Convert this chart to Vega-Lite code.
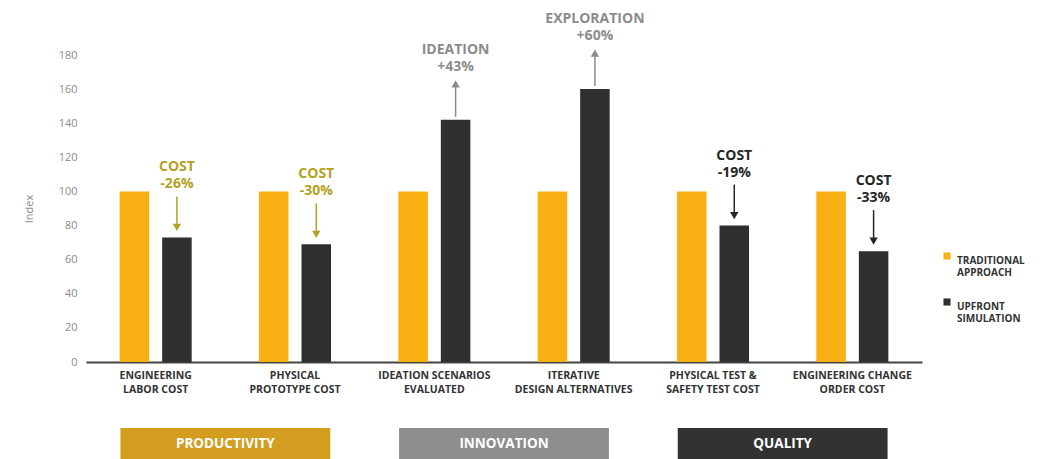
{
  "$schema": "https://vega.github.io/schema/vega-lite/v6.json",
  "width": 836,
  "height": 307,
  "autosize": {"type": "none"},
  "padding": {"left": 86, "top": 55, "right": 118, "bottom": 97},
  "background": "white",
  "config": {
    "font": "Open Sans",
    "view": {"stroke": null},
    "axis": {"grid": false},
    "axisY": {"labelOverlap": false, "labelBound": false, "labelFlush": false}
  },
  "datasets": {
    "bars": [
      {"category": "ENGINEERING|LABOR COST", "series": "TRADITIONAL APPROACH", "value": 100},
      {"category": "ENGINEERING|LABOR COST", "series": "UPFRONT SIMULATION", "value": 73},
      {"category": "PHYSICAL|PROTOTYPE COST", "series": "TRADITIONAL APPROACH", "value": 100},
      {"category": "PHYSICAL|PROTOTYPE COST", "series": "UPFRONT SIMULATION", "value": 69},
      {"category": "IDEATION SCENARIOS|EVALUATED", "series": "TRADITIONAL APPROACH", "value": 100},
      {"category": "IDEATION SCENARIOS|EVALUATED", "series": "UPFRONT SIMULATION", "value": 142},
      {"category": "ITERATIVE|DESIGN ALTERNATIVES", "series": "TRADITIONAL APPROACH", "value": 100},
      {"category": "ITERATIVE|DESIGN ALTERNATIVES", "series": "UPFRONT SIMULATION", "value": 160},
      {"category": "PHYSICAL TEST &|SAFETY TEST COST", "series": "TRADITIONAL APPROACH", "value": 100},
      {"category": "PHYSICAL TEST &|SAFETY TEST COST", "series": "UPFRONT SIMULATION", "value": 80},
      {"category": "ENGINEERING CHANGE|ORDER COST", "series": "TRADITIONAL APPROACH", "value": 100},
      {"category": "ENGINEERING CHANGE|ORDER COST", "series": "UPFRONT SIMULATION", "value": 65}
    ],
    "notes": [
      {"category": "ENGINEERING|LABOR COST", "series": "UPFRONT SIMULATION", "pillar": "PRODUCTIVITY", "value": 73, "line1": "COST", "line2": "-26%", "direction": "down"},
      {"category": "PHYSICAL|PROTOTYPE COST", "series": "UPFRONT SIMULATION", "pillar": "PRODUCTIVITY", "value": 69, "line1": "COST", "line2": "-30%", "direction": "down"},
      {"category": "IDEATION SCENARIOS|EVALUATED", "series": "UPFRONT SIMULATION", "pillar": "INNOVATION", "value": 142, "line1": "IDEATION", "line2": "+43%", "direction": "up"},
      {"category": "ITERATIVE|DESIGN ALTERNATIVES", "series": "UPFRONT SIMULATION", "pillar": "INNOVATION", "value": 160, "line1": "EXPLORATION", "line2": "+60%", "direction": "up"},
      {"category": "PHYSICAL TEST &|SAFETY TEST COST", "series": "UPFRONT SIMULATION", "pillar": "QUALITY", "value": 80, "line1": "COST", "line2": "-19%", "direction": "down"},
      {"category": "ENGINEERING CHANGE|ORDER COST", "series": "UPFRONT SIMULATION", "pillar": "QUALITY", "value": 65, "line1": "COST", "line2": "-33%", "direction": "down"}
    ],
    "pillars": [
      {"pillar": "PRODUCTIVITY"},
      {"pillar": "INNOVATION"},
      {"pillar": "QUALITY"}
    ]
  },
  "layer": [
    {
      "layer": [
        {
          "data": {"name": "bars"},
          "mark": {"type": "bar"},
          "encoding": {
            "x": {
              "field": "category", "type": "nominal", "sort": null,
              "scale": {"paddingInner": 0.483, "paddingOuter": 0.2415},
              "axis": {
                "title": null, "labelAngle": 0, "ticks": false,
                "domainColor": "#444444", "domainWidth": 2,
                "labelExpr": "split(datum.label, '|')",
                "labelFont": "Open Sans", "labelFontWeight": "bold", "labelFontSize": 10.5,
                "labelColor": "#333333", "labelPadding": 8, "labelLineHeight": 14,
                "labelLimit": 200
              }
            },
            "xOffset": {
              "field": "series", "type": "nominal",
              "scale": {"domain": ["TRADITIONAL APPROACH", "UPFRONT SIMULATION"], "paddingInner": 0.306, "paddingOuter": 0}
            },
            "y": {
              "field": "value", "type": "quantitative",
              "scale": {"domain": [0, 180]},
              "axis": {
                "title": "Index", "values": [0, 20, 40, 60, 80, 100, 120, 140, 160, 180],
                "labelOverlap": false,
                "domain": false, "ticks": false, "labelColor": "#8a8a8a", "labelFontSize": 11,
                "labelPadding": 9, "titleColor": "#8a8a8a", "titleFontWeight": "normal",
                "titleFontSize": 11, "titlePadding": 24
              }
            },
            "color": {
              "field": "series", "type": "nominal",
              "scale": {"domain": ["TRADITIONAL APPROACH", "UPFRONT SIMULATION"], "range": ["#F8AF12", "#2D2F31"]},
              "legend": {
                "title": null, "orient": "none", "legendX": 856, "legendY": 196,
                "symbolType": "square", "symbolSize": 50,
                "labelExpr": "split(datum.label, ' ')",
                "labelFontWeight": "bold", "labelFontSize": 10, "labelColor": "#333333",
                "labelLineHeight": 14, "rowPadding": 19, "labelBaseline": "top", "labelOffset": 5
              }
            }
          }
        },
        {
          "data": {"name": "notes"},
          "encoding": {
            "x": {"field": "category", "type": "nominal", "sort": null},
            "xOffset": {"field": "series", "type": "nominal"},
            "y": {
              "field": "value", "type": "quantitative",
              "axis": {
                "title": "Index", "values": [0, 20, 40, 60, 80, 100, 120, 140, 160, 180],
                "labelOverlap": false,
                "domain": false, "ticks": false, "labelColor": "#8a8a8a", "labelFontSize": 11,
                "labelPadding": 9, "titleColor": "#8a8a8a", "titleFontWeight": "normal",
                "titleFontSize": 11, "titlePadding": 24
              }
            },
            "color": {
              "field": "pillar", "type": "nominal",
              "scale": {"domain": ["PRODUCTIVITY", "INNOVATION", "QUALITY"], "range": ["#B4A124", "#8C8C8C", "#262626"]},
              "legend": null
            }
          },
          "layer": [
            {
              "mark": {"type": "text", "dy": -70, "fontSize": 14, "fontWeight": "bold", "baseline": "middle"},
              "encoding": {"text": {"field": "line1"}}
            },
            {
              "mark": {"type": "text", "dy": -53, "fontSize": 14, "fontWeight": "bold", "baseline": "middle"},
              "encoding": {"text": {"field": "line2"}}
            },
            {
              "transform": [{"filter": "datum.direction == 'down'"}],
              "mark": {"type": "rule", "strokeWidth": 1.5, "yOffset": -41, "y2Offset": -12},
              "encoding": {"y2": {"field": "value"}}
            },
            {
              "transform": [{"filter": "datum.direction == 'down'"}],
              "mark": {"type": "point", "shape": "triangle-down", "filled": true, "opacity": 1, "size": 70, "yOffset": -10}
            },
            {
              "transform": [{"filter": "datum.direction == 'up'"}],
              "mark": {"type": "rule", "strokeWidth": 1.5, "yOffset": -3, "y2Offset": -33},
              "encoding": {"y2": {"field": "value"}}
            },
            {
              "transform": [{"filter": "datum.direction == 'up'"}],
              "mark": {"type": "point", "shape": "triangle-up", "filled": true, "opacity": 1, "size": 70, "yOffset": -36}
            }
          ]
        }
      ],
      "resolve": {"scale": {"color": "independent"}}
    },
    {
      "data": {"name": "pillars"},
      "encoding": {
        "x": {
          "field": "pillar", "type": "nominal", "sort": null,
          "scale": {"paddingInner": 0.247, "paddingOuter": 0.1235},
          "axis": null
        },
        "y": {
          "datum": 0, "type": "quantitative",
          "axis": {
            "title": "Index", "values": [0, 20, 40, 60, 80, 100, 120, 140, 160, 180],
            "labelOverlap": false,
            "domain": false, "ticks": false, "labelColor": "#8a8a8a", "labelFontSize": 11,
            "labelPadding": 9, "titleColor": "#8a8a8a", "titleFontWeight": "normal",
            "titleFontSize": 11, "titlePadding": 24
          }
        }
      },
      "layer": [
        {
          "mark": {"type": "rect", "yOffset": 66, "y2Offset": 100},
          "encoding": {
            "y2": {"datum": 0},
            "color": {
              "field": "pillar", "type": "nominal",
              "scale": {"domain": ["PRODUCTIVITY", "INNOVATION", "QUALITY"], "range": ["#D39E20", "#8E8E8E", "#323232"]},
              "legend": null
            }
          }
        },
        {
          "mark": {"type": "text", "yOffset": 82, "color": "white", "fontSize": 13.5, "fontWeight": "bold", "baseline": "middle"},
          "encoding": {"text": {"field": "pillar"}}
        }
      ]
    }
  ],
  "resolve": {"scale": {"x": "independent", "color": "independent"}}
}
